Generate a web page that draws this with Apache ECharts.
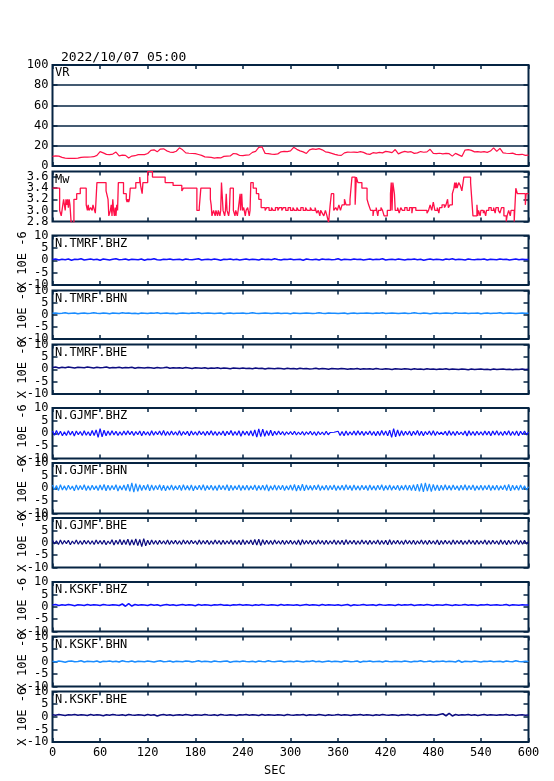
<!DOCTYPE html>
<html><head><meta charset="utf-8">
<script src="https://cdn.jsdelivr.net/npm/echarts/dist/echarts.min.js"></script>
<style>html,body{margin:0;padding:0;background:#fff}#c{width:554px;height:781px}</style>
</head><body><div id="c"></div>
<script>
// ---------------- DATA ----------------
const timeLabel = '2022/10/07 05:00';
const xAxisName = 'SEC';
const unitLabel = 'X 10E -6';
const panelNames = ['VR','Mw','N.TMRF.BHZ','N.TMRF.BHN','N.TMRF.BHE','N.GJMF.BHZ','N.GJMF.BHN','N.GJMF.BHE','N.KSKF.BHZ','N.KSKF.BHN','N.KSKF.BHE'];
const duration = 600; // seconds; each series below is evenly spread over 0..600 s

// variance reduction (%), one value every 4 s
const vrValues = [9.5,10,9.8,8.5,7.8,7.5,7.6,7.5,7.8,8.6,
8.8,8.7,8.9,9.2,10.5,14.2,13,11.5,11.2,11.8,
13.8,10,10.8,10.5,8,9.8,10.2,11.2,11.4,11.3,
12.4,15.5,16,14,16.8,17,15,13.8,13.5,14.6,
18,16,13,12.6,12.4,12.2,11.4,10.5,9,8.8,
8.5,7.8,8.2,8,9.5,9.8,10,12.4,12,10.4,
10.2,10.8,11,13.5,14.5,18.5,19,12.5,12.2,11.8,
11.5,12,14,14.5,14.2,15,18.5,16.5,15,14,
12.4,16,17,16.5,17.2,16,14,13.5,12.5,11.5,
10.7,10.5,13,13.7,13.6,13.8,13.4,14.3,13.5,12,
11.5,13.2,12.8,13.5,13,14.5,14,13.2,16.3,12,
13.5,14.5,13.8,14.2,12.5,13,14.3,13.6,14,16.5,
12.5,12.2,12.6,12,12.5,12.2,9.8,12.5,11,9.5,
15.8,16.2,15.5,14,14.2,13.8,14.3,13.5,14.8,18,
14.5,17.5,13,12.6,12.4,12.8,11.5,11.2,11.6,10.5,
10.7];

// moment magnitude: value holds from mwSec[i] until mwSec[i+1]
const mwSec = [0,9,11,12,14,16,17,18,19,20,21,22,23.5,27,30.5,35,42.5,44,45,46,48,50,51,53,54,56,67.5,70,71,73,74,75,76,77,78,79,80,81,82,83,89.5,93,94,95,96,97,98,105,110,111,113,114,120,126,142,152,163,165,182,185,187,199,200,201,203,205,206,208,209,211,212,213,215,217,218,219,220,222,223,224,228,230,231,233,234,236.5,237,238.5,239.5,241,243,244,246,248,249,250,253,257,260,263,268,270,273,276,278,281,284,286,289,291,294,297,300,303,305,308,310,313,316,319,321,325,327,331,333,335,337,338,340,342,344,346,348,350,351.5,354.5,357,359,361,363,365,368,370,375,377.5,381.5,383,385,390,396.5,398.5,401,404,405,408,410,411,414,416,418,422,426,427,428,429,431,432,435,437,439,441,444,447,450,453,454,458,472,474,476,478,480,482,485,487,488,491,494,496,498,499,501,504,506,507,508,509,510,512,514,516,518.5,527,529,530,535,536,537,539,540,543,544,546,547,550,553,556,558,559,562,564,566,569,572,573,575,577,578,582,584,586,596,597,600];
const mwVal = [3.4,3.0,2.9,3.0,3.2,3.0,3.2,3.1,3.2,3.05,3.2,3.1,2.78,3.2,3.3,3.4,3.1,3.0,3.1,3.0,3.05,3.0,3.1,3.0,2.95,3.5,3.35,3.2,2.9,3.0,3.1,2.9,3.2,3.0,2.9,3.05,2.9,3.1,3.0,3.5,3.3,3.2,3.15,3.2,3.15,3.2,3.4,3.5,3.6,3.45,3.3,3.5,3.7,3.6,3.5,3.45,3.35,3.4,3.0,3.05,3.4,3.2,3.1,2.9,3.0,2.9,3.0,2.9,3.0,2.9,3.0,3.5,3.0,2.9,3.0,3.3,3.0,2.9,3.0,3.4,3.0,2.9,3.0,2.9,3.0,3.3,3.0,3.3,3.0,3.05,2.9,3.0,3.05,2.9,3.0,3.5,3.4,3.3,3.2,3.05,3.0,3.05,3.0,3.05,3.0,3.05,3.0,3.05,3.0,3.05,3.0,3.05,3.0,3.05,3.0,3.05,3.0,3.05,3.0,3.05,3.0,3.05,3.0,3.05,2.95,3.0,2.9,3.0,2.95,2.9,3.0,2.9,2.78,3.1,3.3,3.0,3.05,3.0,3.1,3.0,3.1,3.2,3.1,3.2,3.6,3.1,3.6,3.5,3.4,3.2,3.1,3.0,2.9,3.0,3.05,2.9,3.0,3.05,3.0,2.9,3.0,3.3,3.5,3.0,3.5,3.3,3.0,3.05,2.95,3.05,3.0,3.05,3.0,3.05,2.95,3.05,3.0,2.95,3.0,3.1,3.0,3.15,3.0,3.05,2.95,3.05,3.1,3.05,3.1,3.2,3.05,3.1,3.3,3.4,3.5,3.4,3.5,3.4,3.5,3.45,3.35,3.6,3.5,3.1,2.9,3.1,2.9,3.0,2.9,3.0,2.95,3.0,2.9,3.0,3.05,3.0,3.05,2.95,3.05,3.0,2.95,3.05,2.9,2.8,2.9,3.0,2.9,3.0,2.8,3.4,3.3,3.1,3.3,3.3];

// seismograms (X 10E -6); TMRF/KSKF one value every 4 s, GJMF one value every 2.5 s
const tmrfZ = [0.3,0.5,0.1,0.4,0.2,0.5,0.0,0.4,0.3,0.6,
0.1,0.3,0.5,0.2,0.4,0.0,0.5,0.3,0.1,0.4,
0.6,0.2,0.3,0.5,0.1,0.4,0.3,0.2,0.5,0.0,
0.4,0.3,0.6,0.2,0.1,0.4,0.3,0.5,0.2,0.3,
0.4,0.1,0.5,0.3,0.2,0.4,0.6,0.1,0.3,0.4,
0.2,0.5,0.3,0.0,0.4,0.3,0.5,0.2,0.4,0.1,
0.3,0.5,0.2,0.4,0.3,0.1,0.5,0.3,0.4,0.2,
0.6,0.3,0.1,0.4,0.3,0.5,0.2,0.3,0.4,0.0,
0.5,0.3,0.2,0.4,0.1,0.5,0.3,0.4,0.2,0.3,
0.6,0.1,0.4,0.3,0.2,0.5,0.3,0.4,0.1,0.3,
0.5,0.2,0.4,0.3,0.6,0.1,0.3,0.4,0.2,0.5,
0.3,0.1,0.4,0.3,0.5,0.2,0.4,0.0,0.3,0.5,
0.2,0.4,0.3,0.1,0.5,0.3,0.6,0.2,0.4,0.3,
0.1,0.5,0.3,0.2,0.4,0.3,0.5,0.1,0.4,0.3,
0.2,0.5,0.3,0.4,0.1,0.3,0.5,0.2,0.4,0.3,
0.3];
const tmrfN = [0.6,0.7,0.5,0.6,0.8,0.5,0.6,0.7,0.4,0.6,
0.7,0.5,0.6,0.8,0.6,0.5,0.7,0.6,0.4,0.7,
0.6,0.5,0.8,0.6,0.7,0.5,0.6,0.4,0.7,0.6,
0.5,0.7,0.6,0.8,0.5,0.6,0.7,0.5,0.6,0.4,
0.6,0.7,0.6,0.5,0.7,0.6,0.8,0.5,0.6,0.7,
0.6,0.5,0.6,0.7,0.4,0.6,0.7,0.5,0.6,0.6,
0.7,0.5,0.6,0.8,0.6,0.5,0.6,0.7,0.6,0.5,
0.6,0.7,0.5,0.6,0.6,0.4,0.7,0.6,0.5,0.6,
0.7,0.6,0.5,0.6,0.8,0.6,0.5,0.7,0.6,0.6,
0.5,0.6,0.7,0.4,0.6,0.7,0.5,0.6,0.6,0.7,
0.6,0.5,0.7,0.6,0.8,0.5,0.6,0.7,0.6,0.5,
0.6,0.7,0.5,0.6,0.8,0.6,0.5,0.7,0.6,0.4,
0.6,0.7,0.5,0.6,0.7,0.6,0.5,0.8,0.6,0.6,
0.7,0.5,0.6,0.6,0.7,0.4,0.6,0.7,0.5,0.6,
0.6,0.8,0.5,0.6,0.7,0.6,0.5,0.6,0.7,0.6,
0.6];
const tmrfE = [0.7,0.9,0.5,0.8,0.6,0.9,0.7,0.5,0.8,0.7,
0.6,0.9,0.7,0.5,0.8,0.6,0.7,0.9,0.5,0.7,
0.6,0.8,0.5,0.7,0.6,0.8,0.4,0.7,0.6,0.5,
0.7,0.6,0.4,0.7,0.5,0.6,0.8,0.4,0.6,0.5,
0.6,0.4,0.7,0.5,0.3,0.6,0.5,0.4,0.6,0.3,
0.5,0.4,0.6,0.3,0.5,0.4,0.2,0.5,0.4,0.3,
0.5,0.3,0.4,0.2,0.5,0.3,0.4,0.1,0.4,0.3,
0.2,0.4,0.3,0.1,0.4,0.2,0.3,0.1,0.4,0.2,
0.3,0.1,0.2,0.4,0.1,0.3,0.2,0.0,0.3,0.2,
0.1,0.3,0.2,0.0,0.2,0.1,0.3,0.0,0.2,0.1,
0.2,0.0,0.3,0.1,0.0,0.2,0.1,-0.1,0.2,0.1,
0.0,0.2,0.1,-0.1,0.2,0.0,0.1,-0.1,0.2,0.0,
0.1,-0.1,0.1,0.0,0.2,-0.1,0.1,0.0,-0.1,0.1,
0.0,-0.2,0.1,-0.1,0.0,0.1,-0.1,0.0,-0.2,0.1,
-0.1,0.0,0.1,-0.1,0.0,-0.2,0.0,-0.1,0.1,-0.1,
0.0];
const gjmfZ = [0.9,-0.8,1.1,-0.7,0.8,-1.0,0.6,-0.9,1.0,-0.7,0.8,-1.1,0.9,-0.6,0.7,-0.9,1.0,-0.8,0.6,-1.0,
1.1,-0.9,1.3,-1.6,1.8,-1.4,1.2,-1.0,0.9,-0.8,1.0,-0.7,0.8,-0.9,0.6,-0.8,0.9,-0.7,1.0,-0.6,
0.8,-0.9,0.7,-0.6,0.9,-1.0,0.8,-0.7,0.6,-0.9,1.0,-0.8,0.7,-0.6,0.9,-0.8,1.1,-0.9,0.7,-0.8,
0.9,-0.7,0.6,-0.8,1.0,-0.9,0.7,-0.6,0.8,-1.0,0.9,-0.7,0.6,-0.8,0.9,-0.6,0.7,-0.9,0.8,-0.7,
1.0,-0.8,0.7,-0.9,0.6,-0.7,0.9,-1.0,0.8,-0.6,1.1,-0.9,0.7,-0.8,1.0,-1.2,0.9,-0.7,0.8,-0.9,
1.0,-1.1,1.3,-1.5,1.7,-1.3,1.6,-1.2,1.0,-0.9,1.2,-1.0,0.8,-0.7,0.9,-0.6,0.7,-0.8,0.6,-0.5,
0.7,-0.6,0.8,-0.7,0.5,-0.6,0.7,-0.8,0.6,-0.5,0.8,-0.7,0.6,-0.9,0.7,-0.6,0.5,-0.7,0.8,-0.6,
0.3,-0.2,0.4,-0.3,0.8,-0.9,0.7,-1.0,0.9,-0.8,0.6,-0.7,0.9,-0.8,1.0,-0.7,0.8,-0.9,0.7,-0.6,
0.9,-0.8,0.7,-1.0,0.8,-0.9,1.1,-0.8,0.9,-1.0,1.2,-1.6,1.8,-1.4,1.3,-1.1,1.0,-0.9,0.8,-0.7,
0.9,-1.0,0.8,-0.7,1.1,-0.9,0.8,-1.0,0.7,-0.6,0.9,-0.8,1.0,-0.9,0.7,-0.5,0.4,-0.6,0.8,-0.9,
1.0,-0.8,0.7,-0.9,0.8,-0.6,0.5,-0.7,0.9,-1.1,1.0,-0.8,0.7,-0.9,0.8,-0.7,0.6,-0.8,0.9,-0.7,
0.8,-1.0,0.9,-0.7,1.0,-0.8,0.6,-0.9,0.8,-0.7,1.0,-0.9,0.7,-0.8,0.9,-1.0,0.8,-0.6,0.9,-0.7,
0.5];
const gjmfN = [1.3,-0.6,1.1,-0.9,1.4,-0.7,1.0,-0.8,1.2,-0.5,0.9,-1.0,1.3,-0.7,1.1,-0.6,1.4,-0.9,1.0,-0.8,
1.2,-0.6,1.0,-0.9,1.3,-0.7,1.5,-1.0,1.2,-0.8,1.1,-0.6,1.4,-1.1,1.0,-0.7,1.3,-0.9,1.6,-1.2,
2.1,-1.5,1.8,-1.2,1.4,-0.9,1.2,-0.7,1.5,-1.0,1.3,-0.8,1.1,-0.6,1.4,-0.9,1.2,-1.0,1.0,-0.7,
1.3,-0.8,1.0,-0.6,1.2,-0.9,1.4,-0.7,1.1,-0.8,1.3,-1.0,1.0,-0.6,1.2,-0.7,1.4,-0.9,1.1,-0.6,
1.2,-0.8,1.0,-0.9,1.3,-0.6,1.1,-0.7,1.4,-1.0,1.2,-0.8,1.0,-0.6,1.3,-0.9,1.1,-0.7,1.2,-0.8,
1.0,-0.6,1.3,-0.9,1.1,-0.7,1.2,-0.8,1.4,-1.1,1.0,-0.7,1.3,-0.8,1.1,-0.6,1.2,-0.9,1.0,-0.7,
1.3,-0.8,1.5,-1.1,1.2,-0.9,1.6,-1.0,1.3,-0.7,1.1,-0.8,1.2,-0.6,1.4,-0.9,1.0,-0.7,1.2,-0.8,
1.1,-0.6,1.3,-0.9,1.0,-0.7,1.2,-0.8,1.4,-0.6,1.1,-0.9,1.3,-0.7,1.0,-0.8,1.2,-0.6,1.1,-0.9,
1.3,-0.7,1.0,-0.8,1.2,-0.6,1.4,-0.9,1.1,-0.7,1.3,-0.8,1.0,-0.6,1.2,-0.9,1.1,-0.7,1.3,-0.8,
1.2,-0.9,1.4,-1.0,1.6,-1.2,1.9,-1.4,2.1,-1.1,1.7,-1.3,1.5,-0.9,1.3,-1.0,1.2,-0.8,1.4,-0.7,
1.1,-0.8,1.3,-0.6,1.0,-0.9,1.2,-0.7,1.4,-0.8,1.1,-0.6,1.3,-0.9,1.0,-0.7,1.2,-0.8,1.1,-0.6,
1.3,-0.9,1.1,-0.7,1.2,-0.8,1.0,-0.6,1.3,-0.9,1.5,-1.0,1.2,-0.7,1.1,-0.8,1.3,-0.6,1.0,-0.7,
0.6];
const gjmfE = [1.0,-0.5,0.8,-0.7,1.1,-0.6,0.9,-0.4,1.0,-0.8,0.7,-0.5,1.1,-0.6,0.8,-0.7,1.0,-0.5,0.9,-0.6,
0.8,-0.7,1.1,-0.5,0.9,-0.6,1.0,-0.8,0.7,-0.5,1.2,-0.9,1.0,-0.6,1.3,-0.8,1.1,-0.7,1.4,-1.0,
1.2,-0.9,1.5,-1.1,1.3,-1.6,1.7,-1.2,1.0,-0.8,1.1,-0.6,0.9,-0.7,1.0,-0.5,0.8,-0.6,1.1,-0.7,
0.9,-0.5,1.0,-0.6,0.8,-0.7,1.1,-0.5,0.9,-0.6,1.0,-0.4,0.8,-0.7,1.1,-0.6,0.9,-0.5,1.0,-0.7,
0.8,-0.6,1.1,-0.5,0.9,-0.7,1.0,-0.6,0.8,-0.5,1.1,-0.7,0.9,-0.6,1.0,-0.8,1.2,-0.7,0.9,-0.5,
1.1,-0.8,1.3,-0.9,1.4,-1.1,1.2,-0.7,1.0,-0.6,0.9,-0.7,1.1,-0.5,0.8,-0.6,1.0,-0.7,0.9,-0.5,
1.0,-0.6,0.8,-0.7,1.1,-0.9,1.2,-0.6,0.9,-0.5,1.0,-0.7,0.8,-0.6,1.1,-0.5,0.9,-0.7,1.0,-0.6,
0.8,-0.5,1.1,-0.7,0.9,-0.6,1.0,-0.8,1.2,-0.6,0.9,-0.5,1.0,-0.7,0.8,-0.6,1.1,-0.5,0.9,-0.7,
1.0,-0.6,0.8,-0.5,1.1,-0.7,0.9,-0.6,1.0,-0.8,1.2,-0.7,0.9,-0.5,1.0,-0.6,0.8,-0.7,1.1,-0.5,
0.9,-0.6,1.0,-0.7,0.8,-0.5,1.1,-0.6,0.9,-0.7,1.0,-0.5,0.8,-0.6,1.1,-0.8,0.9,-0.6,1.0,-0.5,
0.8,-0.7,1.1,-0.6,0.9,-0.5,1.0,-0.7,0.8,-0.6,1.1,-0.5,0.9,-0.7,1.0,-0.6,0.8,-0.5,1.1,-0.7,
0.9,-0.6,1.0,-0.5,0.8,-0.7,1.1,-0.6,0.9,-0.8,1.0,-0.6,0.8,-0.5,1.1,-0.7,0.9,-0.6,1.0,-0.5,
0.4];
const kskfZ = [0.7,0.9,0.5,0.8,0.6,0.9,0.7,0.4,0.8,0.7,
0.5,0.9,0.6,0.8,0.7,0.5,0.9,0.7,0.6,0.8,
0.7,0.5,1.1,0.2,1.3,0.3,0.9,0.6,0.8,0.7,
0.5,0.9,0.6,0.8,0.4,0.7,0.9,0.6,0.8,0.5,
0.7,0.9,0.6,0.8,0.7,0.4,0.9,0.6,0.8,0.7,
0.5,0.8,0.7,0.9,0.6,0.7,0.5,0.8,0.7,0.9,
0.6,0.8,0.7,0.5,0.8,0.6,0.9,0.7,0.6,0.8,
0.7,0.5,0.9,0.6,0.8,0.7,0.6,0.8,0.5,0.7,
0.9,0.6,0.8,0.7,0.5,0.9,0.6,0.8,0.7,0.6,
0.8,0.5,0.7,0.9,0.4,0.8,0.6,0.7,0.9,0.6,
0.7,0.8,0.5,0.9,0.7,0.6,0.8,0.7,0.5,0.9,
0.6,0.8,0.7,0.9,0.5,0.7,0.8,0.6,0.9,0.7,
0.5,0.8,0.7,0.6,0.9,0.7,0.5,0.8,0.6,0.7,
0.9,0.6,0.8,0.7,0.5,0.8,0.7,0.9,0.6,0.7,
0.8,0.6,0.7,0.9,0.5,0.8,0.7,0.6,0.8,0.7,
0.7];
const kskfN = [0.1,-0.2,0.2,0.0,-0.3,0.1,0.2,-0.1,0.0,0.3,
-0.2,0.1,0.0,-0.1,0.2,-0.3,0.1,0.0,0.2,-0.1,
0.1,-0.2,0.3,0.0,-0.1,0.2,-0.2,0.1,0.0,-0.1,
0.2,0.0,-0.2,0.1,0.3,-0.1,0.0,0.2,-0.2,0.1,
0.0,-0.1,0.2,0.1,-0.2,0.0,0.3,-0.1,0.1,0.0,
-0.2,0.2,0.0,-0.1,0.1,0.2,-0.3,0.0,0.1,-0.1,
0.2,0.0,-0.1,0.1,-0.2,0.2,0.0,-0.1,0.3,0.0,
-0.1,0.1,0.2,-0.2,0.0,0.1,-0.1,0.2,0.0,-0.2,
0.1,0.0,0.3,-0.1,0.1,-0.2,0.0,0.2,-0.1,0.1,
0.0,-0.2,0.2,0.1,-0.1,0.0,0.2,-0.3,0.1,0.0,
0.2,-0.1,0.0,0.1,-0.2,0.2,0.0,-0.1,0.1,0.0,
-0.1,0.2,0.0,-0.2,0.1,0.0,0.3,-0.1,0.0,0.2,
-0.2,0.1,0.0,0.2,-0.1,0.1,0.0,-0.2,0.4,-0.3,
0.1,0.0,-0.1,0.2,0.0,-0.2,0.1,0.0,0.2,-0.1,
0.0,0.1,-0.2,0.2,0.0,-0.1,0.3,0.0,-0.1,0.1,
0.0];
const kskfE = [0.8,0.6,0.9,0.7,0.5,0.8,0.7,0.9,0.6,0.8,
0.7,0.5,0.9,0.6,0.8,0.7,0.4,0.8,0.6,0.9,
0.7,0.6,0.8,0.5,0.9,0.7,0.6,0.8,0.7,0.5,
0.9,0.6,0.8,0.3,0.7,0.9,0.6,0.8,0.5,0.7,
0.8,0.6,0.9,0.7,0.5,0.8,0.7,0.6,0.9,0.7,
0.6,0.8,0.5,0.9,0.7,0.6,0.8,0.7,0.5,0.8,
0.7,0.9,0.6,0.8,0.7,0.5,0.9,0.6,0.8,0.7,
0.6,0.8,0.7,0.5,0.9,0.7,0.6,0.8,0.7,0.9,
0.5,0.8,0.7,0.6,0.9,0.7,0.5,0.8,0.6,0.7,
0.9,0.6,0.8,0.7,0.5,0.8,0.7,0.9,0.6,0.8,
0.7,0.5,0.8,0.6,0.9,0.7,0.6,0.8,0.7,0.5,
0.8,0.7,0.9,0.6,0.8,0.5,0.7,0.9,0.6,0.8,
0.7,0.6,0.9,1.2,0.4,1.3,0.3,0.9,0.6,0.8,
0.7,0.9,0.6,0.8,0.5,0.7,0.9,0.6,0.8,0.7,
0.6,0.8,0.7,0.9,0.6,0.8,0.5,0.7,0.8,0.6,
0.7];

// ---------------- LAYOUT / STYLE ----------------
const FONT = 'DejaVu Sans Mono';
const FRAME = '#062443';
const RED = '#ff1048', BHZ = '#1010ff', BHN = '#1a8cff', BHE = '#0c0c80';
const panelTop = [65,171.5,235.5,290.5,344.5,408,463,518,582,636.5,691.5];
const panelH   = [101,50,49.5,48.5,49.5,50.5,50.5,49.5,49.5,50,50.5];
const GL = 52.5, GW = 476;

const toXY = arr => { const st = duration/(arr.length-1); return arr.map((v,i)=>[i*st, v]); };
const mwData = mwSec.map((s,i)=>[s, mwVal[i]]);
const seis = [tmrfZ,tmrfN,tmrfE,gjmfZ,gjmfN,gjmfE,kskfZ,kskfN,kskfE];
const seisColors = [BHZ,BHN,BHE,BHZ,BHN,BHE,BHZ,BHN,BHE];
const seisWidth  = [1.6,1.6,1.6,1.2,1.2,1.2,1.6,1.6,1.6];

const mwFmt = v=>(Math.round(v*10)/10).toFixed(1);
const panels = [
  {min:0,max:100,interval:20,data:toXY(vrValues),color:RED,width:1.2,split:true,fmt:v=>String(v)},
  {min:2.8,max:3.7,interval:0.2,data:mwData,color:RED,width:1.3,step:'end',fmt:mwFmt,hideMax:true,hideMin:true}
];
seis.forEach((a,k)=>panels.push({min:-10,max:10,interval:5,data:toXY(a),color:seisColors[k],width:seisWidth[k],unit:true,fmt:v=>String(v)}));

const grids=[],xAxes=[],yAxes=[],series=[],titles=[];
const last = panels.length-1;
const txt = {fontFamily:FONT,fontSize:12,color:'#000'};
panels.forEach((p,i)=>{
  grids.push({left:GL,width:GW,top:panelTop[i],height:panelH[i],show:true,borderColor:FRAME,borderWidth:2,backgroundColor:'transparent'});
  const tick = {show:true,inside:true,length:4,lineStyle:{color:FRAME,width:1.5}};
  ['bottom','top'].forEach(pos=>xAxes.push({gridIndex:i,type:'value',min:0,max:600,interval:60,position:pos,
    axisLine:{show:false,onZero:false},axisTick:tick,splitLine:{show:false},
    axisLabel:{show:pos==='bottom'&&i===last,margin:5,...txt}}));
  ['left','right'].forEach(pos=>yAxes.push({gridIndex:i,type:'value',min:p.min,max:p.max,interval:p.interval,position:pos,
    axisLine:{show:false,onZero:false},axisTick:{show:true,inside:true,length:5,lineStyle:{color:FRAME,width:1.5}},
    splitLine:{show:!!p.split&&pos==='left',lineStyle:{color:FRAME,width:1.5}},
    axisLabel:{show:pos==='left',margin:4,showMinLabel:!p.hideMin,showMaxLabel:!p.hideMax,formatter:p.fmt,...txt},
    name:(p.unit&&pos==='left')?unitLabel:'',nameLocation:'middle',nameRotate:90,nameGap:24,nameMoveOverlap:false,
    nameTextStyle:{fontFamily:FONT,fontSize:12,color:'#000'}}));
  series.push({type:'line',xAxisIndex:2*i,yAxisIndex:2*i,data:p.data,step:p.step||false,symbol:'none',
    lineStyle:{width:p.width,color:p.color},silent:true,clip:true,animation:false});
  titles.push({text:panelNames[i],left:55,top:panelTop[i]+2,padding:0,textStyle:{fontFamily:FONT,fontSize:12,fontWeight:'normal',color:'#000'}});
});
// extra Mw axis carrying only the bottom "2.8" label (ticks at 2.8 and 3.7)
yAxes.push({gridIndex:1,type:'value',min:2.8,max:3.7,interval:0.9,position:'left',
  axisLine:{show:false,onZero:false},axisTick:{show:false},splitLine:{show:false},
  axisLabel:{show:true,margin:4,showMinLabel:true,showMaxLabel:false,formatter:mwFmt,...txt}});
titles.push({text:timeLabel,left:61,top:51,padding:0,textStyle:{fontFamily:FONT,fontSize:13,fontWeight:'normal',color:'#000'}});
titles.push({text:xAxisName,left:264,top:765,padding:0,textStyle:{fontFamily:FONT,fontSize:12,fontWeight:'normal',color:'#000'}});

const chart = echarts.init(document.getElementById('c'));
chart.setOption({animation:false,backgroundColor:'#fff',title:titles,grid:grids,xAxis:xAxes,yAxis:yAxes,series:series});
</script></body></html>
